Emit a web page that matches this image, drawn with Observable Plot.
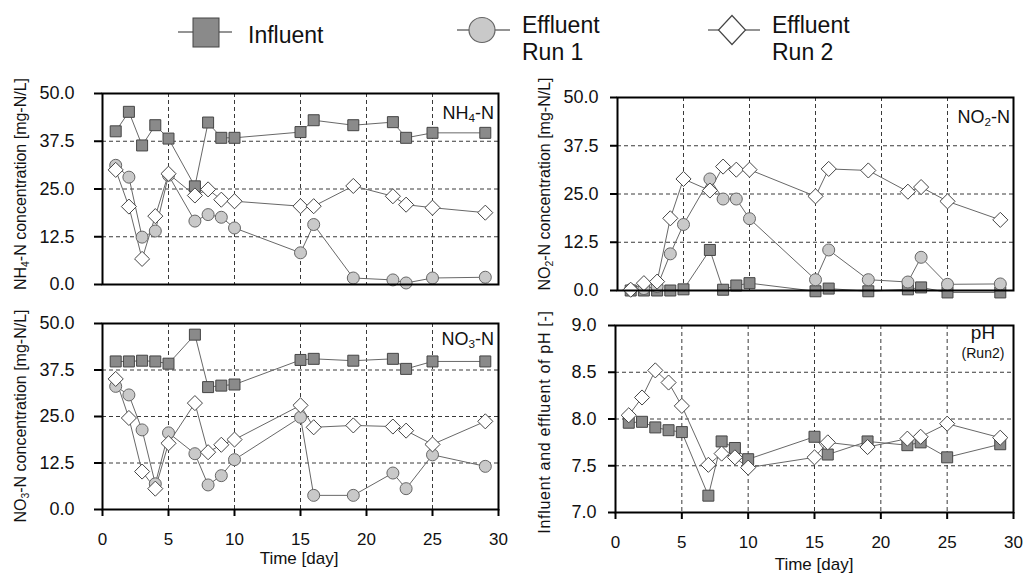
<!DOCTYPE html>
<html>
<head>
<meta charset="utf-8">
<script src="https://cdn.jsdelivr.net/npm/d3@7"></script>
<script src="https://cdn.jsdelivr.net/npm/@observablehq/plot@0.6"></script>
<style>
  html, body { margin: 0; padding: 0; background: #fff; }
  #root { position: relative; width: 1023px; height: 576px; overflow: hidden; font-family: "Liberation Sans", Arial, sans-serif; color: #111; }
  .ytitle { position: absolute; white-space: nowrap; font-size: 16px; transform: translate(-50%, -50%) rotate(-90deg); color: #111; }
  .plabel { position: absolute; white-space: nowrap; font-size: 18px; color: #111; line-height: 1; }
  sub { font-size: 0.65em; vertical-align: -0.25em; line-height: 0; }
</style>
</head>
<body>
<div id="root"></div>
<script>
// ---------------- data ----------------
const days = [1, 2, 3, 4, 5, 7, 8, 9, 10, 15, 16, 19, 22, 23, 25, 29];

const nh4Influent = [40.1, 45.2, 36.4, 41.7, 38.2, 25.7, 42.4, 38.4, 38.4, 39.9, 43.0, 41.7, 42.5, 38.4, 39.7, 39.7];
const nh4Run1     = [31.2, 28.1, 12.4, 14.0, 28.6, 16.6, 18.3, 17.6, 14.8, 8.3, 15.7, 1.7, 1.2, 0.4, 1.7, 1.9];
const nh4Run2     = [30.0, 20.4, 6.7, 17.9, 29.0, 23.3, 24.9, 22.2, 21.8, 20.5, 20.5, 25.8, 23.1, 20.9, 20.1, 18.8];

const no2Influent = [0.0, 0.0, 0.0, 0.0, 0.3, 10.5, 0.2, 1.3, 1.9, -0.2, 0.5, -0.2, 0.3, 0.8, -0.5, -0.5];
const no2Run1     = [0.2, 0.5, 1.0, 9.5, 17.1, 28.9, 23.7, 23.7, 18.6, 2.8, 10.5, 2.8, 2.2, 8.6, 1.6, 1.7];
const no2Run2     = [0.2, 1.9, 2.3, 18.7, 28.9, 25.9, 32.1, 31.3, 31.3, 24.4, 31.5, 31.1, 25.6, 26.8, 23.1, 18.3];

const no3Influent = [39.8, 39.8, 40.0, 39.8, 39.2, 47.0, 32.9, 33.3, 33.6, 40.2, 40.5, 40.0, 40.5, 37.8, 39.8, 39.8];
const no3Run1     = [33.1, 30.8, 21.4, 6.9, 20.6, 15.0, 6.6, 9.1, 13.4, 24.8, 3.8, 3.8, 9.8, 5.6, 14.7, 11.6];
const no3Run2     = [35.1, 24.6, 10.2, 5.6, 17.8, 28.6, 15.4, 17.4, 18.8, 28.0, 22.1, 22.6, 22.3, 21.2, 17.5, 23.7];

const phInfluent  = [7.96, 7.97, 7.91, 7.88, 7.86, 7.18, 7.76, 7.69, 7.57, 7.81, 7.62, 7.76, 7.72, 7.75, 7.59, 7.73];
const phRun2      = [8.04, 8.23, 8.52, 8.39, 8.14, 7.51, 7.63, 7.59, 7.48, 7.59, 7.75, 7.70, 7.79, 7.81, 7.95, 7.80];

const concTicks = [0, 12.5, 25, 37.5, 50];
const phTicks = [7.0, 7.5, 8.0, 8.5, 9.0];
const dayTicks = [0, 5, 10, 15, 20, 25, 30];

const seriesNames = ["Influent", "Effluent Run 1", "Effluent Run 2"];

// ---------------- styles ----------------
const markerStyle = {
  "Influent":       {symbol: "square",   r: 6.2,  fill: "#8a8a8a", stroke: "#454545"},
  "Effluent Run 1": {symbol: "circle",   r: 6.0,  fill: "#c9c9c9", stroke: "#666666"},
  "Effluent Run 2": {symbol: "diamond2", r: 6.8,  fill: "#ffffff", stroke: "#454545"}
};

const root = document.getElementById("root");

function panel(cfg) {
  const data = [];
  cfg.series.forEach(s => s.values.forEach((v, i) => data.push({day: days[i], value: v, series: s.name})));
  const gridOpts = {stroke: "#3a3a3a", strokeOpacity: 1, strokeWidth: 1, strokeDasharray: "4,3"};
  const marks = [
    Plot.gridX([5, 10, 15, 20, 25], gridOpts),
    Plot.gridY(cfg.grid, gridOpts),
    Plot.line(data, {x: "day", y: "value", z: "series", stroke: "#686868", strokeWidth: 1})
  ];
  cfg.series.forEach(s => {
    const st = markerStyle[s.name];
    marks.push(Plot.dot(data.filter(d => d.series === s.name), {
      x: "day", y: "value", symbol: st.symbol, r: st.r, fill: st.fill, stroke: st.stroke, strokeWidth: 1
    }));
  });
  marks.push(Plot.axisY(cfg.yTicks, {
    tickSize: cfg.tickSize, tickPadding: cfg.tickPadding, strokeWidth: 2, stroke: "#000",
    tickFormat: d3.format(".1f"), label: null, fontSize: 18
  }));
  if (cfg.showX) {
    marks.push(Plot.axisX(dayTicks, {
      tickSize: 7, tickPadding: 16, strokeWidth: 2, stroke: "#000", label: null, fontSize: 17
    }));
  }
  marks.push(Plot.frame({stroke: "#000", strokeWidth: 2}));
  const svg = Plot.plot({
    width: cfg.width, height: cfg.height,
    marginLeft: cfg.ml, marginRight: cfg.mr, marginTop: cfg.mt, marginBottom: cfg.mb,
    x: {domain: [0, 30], axis: null},
    y: {domain: cfg.yDomain, axis: null},
    style: {background: "transparent", fontFamily: "Liberation Sans, Arial, sans-serif", fontSize: "18px", color: "#111", overflow: "visible"},
    marks
  });
  svg.style.position = "absolute";
  svg.style.left = cfg.left + "px";
  svg.style.top = cfg.top + "px";
  svg.style.maxWidth = "none";
  root.appendChild(svg);
}

// Top-left: NH4-N
panel({
  left: 0, top: 70, width: 512, height: 230, ml: 102, mr: 14, mt: 23, mb: 16,
  yDomain: [0, 50], yTicks: concTicks, grid: [12.5, 25, 37.5], tickSize: 8, tickPadding: 20,
  showX: false,
  series: [{name: "Influent", values: nh4Influent}, {name: "Effluent Run 1", values: nh4Run1}, {name: "Effluent Run 2", values: nh4Run2}]
});
// Top-right: NO2-N
panel({
  left: 511, top: 70, width: 512, height: 230, ml: 106, mr: 10, mt: 27, mb: 10,
  yDomain: [0, 50], yTicks: concTicks, grid: [12.5, 25, 37.5], tickSize: 7, tickPadding: 12,
  showX: false,
  series: [{name: "Influent", values: no2Influent}, {name: "Effluent Run 1", values: no2Run1}, {name: "Effluent Run 2", values: no2Run2}]
});
// Bottom-left: NO3-N
panel({
  left: 0, top: 300, width: 512, height: 276, ml: 102, mr: 14, mt: 23, mb: 67,
  yDomain: [0, 50], yTicks: concTicks, grid: [12.5, 25, 37.5], tickSize: 8, tickPadding: 20,
  showX: true,
  series: [{name: "Influent", values: no3Influent}, {name: "Effluent Run 1", values: no3Run1}, {name: "Effluent Run 2", values: no3Run2}]
});
// Bottom-right: pH
panel({
  left: 511, top: 300, width: 512, height: 276, ml: 104, mr: 10, mt: 25, mb: 64,
  yDomain: [7, 9], yTicks: phTicks, grid: [7.5, 8.0, 8.5], tickSize: 7, tickPadding: 12,
  showX: true,
  series: [{name: "Influent", values: phInfluent}, {name: "Effluent Run 2", values: phRun2}]
});

// ---------------- text overlays ----------------
function addHTML(cls, html, style) {
  const el = document.createElement("div");
  el.className = cls;
  el.innerHTML = html;
  Object.assign(el.style, style);
  root.appendChild(el);
}
addHTML("ytitle", "NH<sub>4</sub>-N concentration [mg-N/L]", {left: "21px", top: "184px"});
addHTML("ytitle", "NO<sub>3</sub>-N concentration [mg-N/L]", {left: "21px", top: "416px"});
addHTML("ytitle", "NO<sub>2</sub>-N concentration [mg-N/L]", {left: "545px", top: "184px"});
addHTML("ytitle", "Influent and effluent of pH [-]", {left: "545px", top: "422px", letterSpacing: "0.7px"});

addHTML("plabel", "NH<sub>4</sub>-N", {right: (1023 - 494) + "px", top: "104px"});
addHTML("plabel", "NO<sub>2</sub>-N", {right: (1023 - 1010) + "px", top: "108px"});
addHTML("plabel", "NO<sub>3</sub>-N", {right: (1023 - 494) + "px", top: "330px"});
addHTML("plabel", "pH", {left: "983px", top: "323px", transform: "translateX(-50%)", fontSize: "19px"});
addHTML("plabel", "(Run2)", {left: "983px", top: "346px", transform: "translateX(-50%)", fontSize: "14px"});

addHTML("plabel", "Time [day]", {left: "299px", top: "550px", transform: "translateX(-50%)", fontSize: "17px"});
addHTML("plabel", "Time [day]", {left: "814px", top: "556px", transform: "translateX(-50%)", fontSize: "17px"});

// ---------------- legend ----------------
const leg = d3.create("svg").attr("width", 1023).attr("height", 70)
  .style("position", "absolute").style("left", "0px").style("top", "0px")
  .style("font-family", "Liberation Sans, Arial, sans-serif");
const legendItems = [
  {name: seriesNames[0], cx: 206, cy: 32, x0: 178, x1: 232, tx: 248, lines: ["Influent"]},
  {name: seriesNames[1], cx: 482, cy: 30, x0: 457, x1: 510, tx: 522, lines: ["Effluent", "Run 1"]},
  {name: seriesNames[2], cx: 732, cy: 30, x0: 708, x1: 760, tx: 772, lines: ["Effluent", "Run 2"]}
];
legendItems.forEach(it => {
  const st = markerStyle[it.name];
  leg.append("line").attr("x1", it.x0).attr("x2", it.x1).attr("y1", it.cy).attr("y2", it.cy)
    .attr("stroke", "#707070").attr("stroke-width", 1.5);
  if (st.symbol === "square") {
    leg.append("rect").attr("x", it.cx - 13).attr("y", it.cy - 14).attr("width", 26).attr("height", 29)
      .attr("fill", st.fill).attr("stroke", st.stroke).attr("stroke-width", 1);
  } else if (st.symbol === "circle") {
    leg.append("ellipse").attr("cx", it.cx).attr("cy", it.cy).attr("rx", 13).attr("ry", 12.5)
      .attr("fill", st.fill).attr("stroke", st.stroke).attr("stroke-width", 1.2);
  } else {
    leg.append("path").attr("d", `M${it.cx},${it.cy - 14.5}L${it.cx + 13.5},${it.cy}L${it.cx},${it.cy + 14.5}L${it.cx - 13.5},${it.cy}Z`)
      .attr("fill", st.fill).attr("stroke", st.stroke).attr("stroke-width", 1.2);
  }
  const t = leg.append("text").attr("x", it.tx).attr("font-size", 23).attr("fill", "#111");
  if (it.lines.length === 1) {
    t.attr("y", 43).text(it.lines[0]);
  } else {
    t.attr("y", 33).text(it.lines[0]);
    leg.append("text").attr("x", it.tx).attr("y", 60).attr("font-size", 23).attr("fill", "#111").text(it.lines[1]);
  }
});
root.appendChild(leg.node());
</script>
</body>
</html>
